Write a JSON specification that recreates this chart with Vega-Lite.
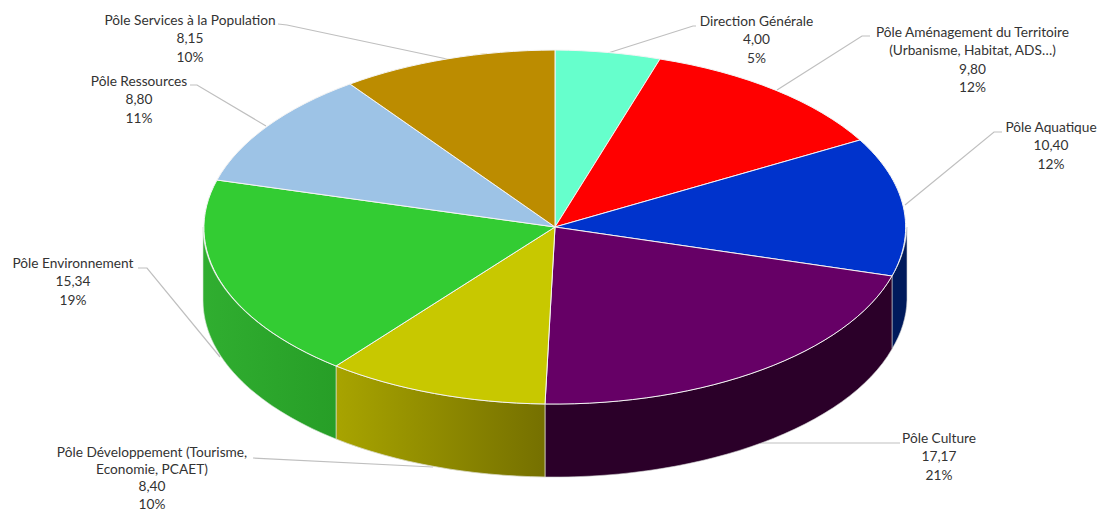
{
"$schema":"https://vega.github.io/schema/vega-lite/v6.json",
"width":1099,"height":512,"padding":0,
"autosize":{"type":"none"},
"background":"white",
"view":{"stroke":null},
"data":{"values":[
{"pole":"Direction Générale","valeur":4.00,"part":5,"label":"Direction Générale\n4,00\n5%"},
{"pole":"Pôle Aménagement du Territoire (Urbanisme, Habitat, ADS…)","valeur":9.80,"part":12,"label":"Pôle Aménagement du Territoire\n(Urbanisme, Habitat, ADS…)\n9,80\n12%"},
{"pole":"Pôle Aquatique","valeur":10.40,"part":12,"label":"Pôle Aquatique\n10,40\n12%"},
{"pole":"Pôle Culture","valeur":17.17,"part":21,"label":"Pôle Culture\n17,17\n21%"},
{"pole":"Pôle Développement (Tourisme, Economie, PCAET)","valeur":8.40,"part":10,"label":"Pôle Développement (Tourisme,\nEconomie, PCAET)\n8,40\n10%"},
{"pole":"Pôle Environnement","valeur":15.34,"part":19,"label":"Pôle Environnement\n15,34\n19%"},
{"pole":"Pôle Ressources","valeur":8.80,"part":11,"label":"Pôle Ressources\n8,80\n11%"},
{"pole":"Pôle Services à la Population","valeur":8.15,"part":10,"label":"Pôle Services à la Population\n8,15\n10%"}
]},
"layer":[
{"mark":{"type":"point","filled":false,"size":4,"opacity":1,"stroke":"#bfbfbf","strokeWidth":1.2},
 "encoding":{"shape":{"field":"pole","type":"nominal","legend":null,"scale":{
  "domain":["Direction Générale","Pôle Aménagement du Territoire (Urbanisme, Habitat, ADS…)","Pôle Aquatique","Pôle Culture","Pôle Développement (Tourisme, Economie, PCAET)","Pôle Environnement","Pôle Ressources","Pôle Services à la Population"],
  "range":["M146.5,-230L143.5,-230L58.5,-203","M320.5,-220L312.5,-220L227.5,-166","M452.5,-124L444.5,-124L355.5,-51","M350.5,187L210.5,187","M-296.5,202L-116.5,211","M-411.5,12L-402.5,12L-329.5,101","M-359.5,-171L-352.5,-171L-283.5,-130","M-271.5,-232L-262.5,-231L-102.5,-197"]}}}},
{"transform":[{"filter":"datum.pole==='Pôle Aquatique'"}],
 "mark":{"type":"point","filled":true,"size":4,"opacity":1,"fill":"#001a5c","stroke":"#d0d0d0","strokeWidth":0.6,"shape":"M342.5,20A352,177 0 0 0 357.5,-29L357.5,44A352,177 0 0 1 342.5,93Z"},"encoding":{}},
{"transform":[{"filter":"datum.pole==='Pôle Culture'"}],
 "mark":{"type":"point","filled":true,"size":4,"opacity":1,"fill":"#2b0029","stroke":"#d0d0d0","strokeWidth":0.6,"shape":"M342.5,20A352,177 0 0 1 -4.5,148L-4.5,221A352,177 0 0 0 342.5,93Z"},"encoding":{}},
{"transform":[{"filter":"datum.pole==='Pôle Développement (Tourisme, Economie, PCAET)'"}],
 "mark":{"type":"point","filled":true,"size":4,"opacity":1,"stroke":"#d8d8c0","strokeWidth":0.8,"fill":{"gradient":"linear","x1":0,"y1":0,"x2":1,"y2":0,"stops":[{"offset":0,"color":"#a8a400"},{"offset":1,"color":"#757000"}]},"shape":"M-4.5,148A352,177 0 0 1 -213.5,110L-213.5,183A352,177 0 0 0 -4.5,221Z"},"encoding":{}},
{"transform":[{"filter":"datum.pole==='Pôle Environnement'"}],
 "mark":{"type":"point","filled":true,"size":4,"opacity":1,"stroke":"#d8e8d8","strokeWidth":0.6,"fill":{"gradient":"linear","x1":0,"y1":0,"x2":1,"y2":0,"stops":[{"offset":0,"color":"#30ae30"},{"offset":1,"color":"#279e27"}]},"shape":"M-213.5,110A352,177 0 0 1 -346.5,-29L-346.5,44A352,177 0 0 0 -213.5,183Z"},"encoding":{}},
{"mark":{"type":"point","filled":true,"size":4,"opacity":1,"stroke":"#f4f4f4","strokeWidth":1},
 "encoding":{
 "color":{"field":"pole","type":"nominal","legend":null,"scale":{
  "domain":["Direction Générale","Pôle Aménagement du Territoire (Urbanisme, Habitat, ADS…)","Pôle Aquatique","Pôle Culture","Pôle Développement (Tourisme, Economie, PCAET)","Pôle Environnement","Pôle Ressources","Pôle Services à la Population"],
  "range":["#66FFCC","#FF0000","#0033CC","#660066","#C8C800","#33CC33","#9DC3E6","#BC8C00"]}},
 "shape":{"field":"pole","type":"nominal","legend":null,"scale":{
  "domain":["Direction Générale","Pôle Aménagement du Territoire (Urbanisme, Habitat, ADS…)","Pôle Aquatique","Pôle Culture","Pôle Développement (Tourisme, Economie, PCAET)","Pôle Environnement","Pôle Ressources","Pôle Services à la Population"],
  "range":["M5.5,-29L5.5,-206A352,177 0 0 1 110.5,-197Z","M5.5,-29L110.5,-197A352,177 0 0 1 310.5,-116Z","M5.5,-29L310.5,-116A352,177 0 0 1 342.5,20Z","M5.5,-29L342.5,20A352,177 0 0 1 -4.5,148Z","M5.5,-29L-4.5,148A352,177 0 0 1 -213.5,110Z","M5.5,-29L-213.5,110A352,177 0 0 1 -332.5,-76Z","M5.5,-29L-332.5,-76A352,177 0 0 1 -199.5,-172Z","M5.5,-29L-199.5,-172A352,177 0 0 1 5.5,-206Z"]}}}},
{"transform":[{"filter":"datum.pole==='Direction Générale'"}],"mark":{"type":"text","font":"Lato","fontSize":13.7,"lineHeight":18.4,"lineBreak":"\n","align":"center","baseline":"middle","color":"#333333","dx":207,"dy":-234},"encoding":{"text":{"field":"label"}}},
{"transform":[{"filter":"datum.part===12 && datum.valeur<10"}],"mark":{"type":"text","font":"Lato","fontSize":13.7,"lineHeight":18.4,"lineBreak":"\n","align":"center","baseline":"middle","color":"#333333","dx":423,"dy":-223},"encoding":{"text":{"field":"label"}}},
{"transform":[{"filter":"datum.pole==='Pôle Aquatique'"}],"mark":{"type":"text","font":"Lato","fontSize":13.7,"lineHeight":18.4,"lineBreak":"\n","align":"center","baseline":"middle","color":"#333333","dx":501.5,"dy":-128},"encoding":{"text":{"field":"label"}}},
{"transform":[{"filter":"datum.pole==='Pôle Culture'"}],"mark":{"type":"text","font":"Lato","fontSize":13.7,"lineHeight":18.4,"lineBreak":"\n","align":"center","baseline":"middle","color":"#333333","dx":389.5,"dy":183},"encoding":{"text":{"field":"label"}}},
{"transform":[{"filter":"datum.valeur===8.4"}],"mark":{"type":"text","font":"Lato","fontSize":13.7,"lineHeight":17.4,"lineBreak":"\n","align":"center","baseline":"middle","color":"#333333","dx":-397.5,"dy":196.5},"encoding":{"text":{"field":"label"}}},
{"transform":[{"filter":"datum.pole==='Pôle Environnement'"}],"mark":{"type":"text","font":"Lato","fontSize":13.7,"lineHeight":18.4,"lineBreak":"\n","align":"center","baseline":"middle","color":"#333333","dx":-476.5,"dy":8},"encoding":{"text":{"field":"label"}}},
{"transform":[{"filter":"datum.pole==='Pôle Ressources'"}],"mark":{"type":"text","font":"Lato","fontSize":13.7,"lineHeight":18.4,"lineBreak":"\n","align":"center","baseline":"middle","color":"#333333","dx":-410.5,"dy":-174},"encoding":{"text":{"field":"label"}}},
{"transform":[{"filter":"datum.valeur===8.15"}],"mark":{"type":"text","font":"Lato","fontSize":13.7,"lineHeight":18.4,"lineBreak":"\n","align":"center","baseline":"middle","color":"#333333","dx":-359.5,"dy":-235},"encoding":{"text":{"field":"label"}}}
],
"resolve":{"scale":{"shape":"independent","color":"independent"}}
}
